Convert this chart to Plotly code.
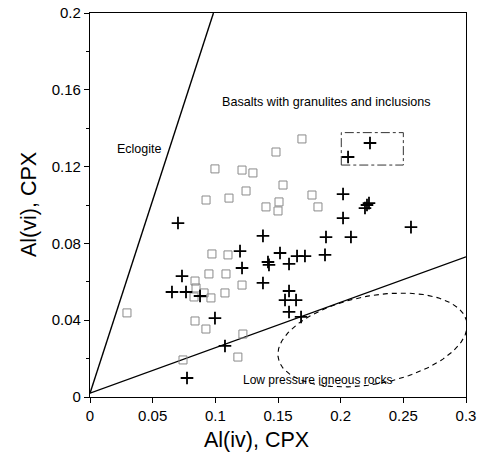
import numpy as np
import plotly.graph_objects as go

# Open squares (Al(iv), Al(vi))
sq_x = [0.0295, 0.0742, 0.0838, 0.0949, 0.0846, 0.083, 0.091, 0.0965, 0.0838, 0.0925,
        0.0973, 0.1101, 0.1085, 0.1077, 0.1213, 0.122, 0.118, 0.0997, 0.0926, 0.1109,
        0.1213, 0.130, 0.1245, 0.1691, 0.1484, 0.154, 0.1404, 0.1508, 0.150, 0.1771, 0.1819]
sq_y = [0.0438, 0.0193, 0.0604, 0.0641, 0.0568, 0.0521, 0.0542, 0.0516, 0.0396, 0.0354,
        0.0745, 0.074, 0.0641, 0.0542, 0.0583, 0.0328, 0.0208, 0.1188, 0.1026, 0.1036,
        0.1182, 0.1167, 0.1073, 0.1344, 0.1276, 0.1104, 0.099, 0.1016, 0.0969, 0.1052, 0.099]

# Crosses
cr_x = [0.0702, 0.0734, 0.0654, 0.0766, 0.0878, 0.0997, 0.0774, 0.1077, 0.1197, 0.1213,
        0.138, 0.138, 0.142, 0.1428, 0.1516, 0.1588, 0.1652, 0.1715, 0.1588, 0.1556,
        0.1644, 0.1588, 0.1684, 0.1875, 0.1883, 0.2082, 0.2019, 0.2019, 0.221, 0.2194,
        0.2226, 0.2561, 0.2234, 0.2059]
cr_y = [0.0906, 0.063, 0.0547, 0.0547, 0.0526, 0.0411, 0.0099, 0.0266, 0.076, 0.0672,
        0.0839, 0.0594, 0.0703, 0.0688, 0.075, 0.0693, 0.0734, 0.0734, 0.0552, 0.0505,
        0.0505, 0.0443, 0.0417, 0.074, 0.0833, 0.0833, 0.0932, 0.1057, 0.100, 0.0984,
        0.101, 0.0885, 0.1323, 0.125]

# Boundary lines
eclogite_x = [0.0, 0.0985]
eclogite_y = [0.002, 0.2]
lowp_x = [0.0, 0.3]
lowp_y = [0.002, 0.073]

# Tick values / labels
x_ticks = [0, 0.05, 0.1, 0.15, 0.2, 0.25, 0.3]
x_ticklabels = ["0", "0.05", "0.1", "0.15", "0.2", "0.25", "0.3"]
y_ticks = [0, 0.04, 0.08, 0.12, 0.16, 0.2]
y_ticklabels = ["0", "0.04", "0.08", "0.12", "0.16", "0.2"]

# Region outlines
box_x = [0.2005, 0.25]
box_y = [0.1208, 0.1377]
ell_center = (0.2254, 0.0297)
ell_a_px, ell_b_px, ell_angle_deg = 96, 44, -11

W, H = 483, 464
ml, mr, mt, mb = 90, 17, 13, 67
pw, ph = W - ml - mr, H - mt - mb
sx, sy = 0.3 / pw, 0.2 / ph

t = np.linspace(0, 2 * np.pi, 200)
ang = np.deg2rad(ell_angle_deg)
ex_px = ell_a_px * np.cos(t) * np.cos(ang) - ell_b_px * np.sin(t) * np.sin(ang)
ey_px = ell_a_px * np.cos(t) * np.sin(ang) + ell_b_px * np.sin(t) * np.cos(ang)
ell_x = ell_center[0] + ex_px * sx
ell_y = ell_center[1] - ey_px * sy

font = "Liberation Sans, Arial, sans-serif"

fig = go.Figure()
fig.add_trace(go.Scatter(x=eclogite_x, y=eclogite_y, mode="lines",
                         line=dict(color="black", width=1.4), hoverinfo="skip"))
fig.add_trace(go.Scatter(x=lowp_x, y=lowp_y, mode="lines",
                         line=dict(color="black", width=1.4), hoverinfo="skip"))
fig.add_trace(go.Scatter(x=ell_x, y=ell_y, mode="lines",
                         line=dict(color="black", width=1.1, dash="5px,4px"), hoverinfo="skip"))
fig.add_trace(go.Scatter(x=[box_x[0], box_x[1], box_x[1], box_x[0], box_x[0]],
                         y=[box_y[0], box_y[0], box_y[1], box_y[1], box_y[0]], mode="lines",
                         line=dict(color="#333", width=1, dash="dashdot"), hoverinfo="skip"))
fig.add_trace(go.Scatter(x=sq_x, y=sq_y, mode="markers",
                         marker=dict(symbol="square-open", size=8, color="#8a8a8a",
                                     line=dict(width=1, color="#8a8a8a"))))
fig.add_trace(go.Scatter(x=cr_x, y=cr_y, mode="markers",
                         marker=dict(symbol="cross-thin-open", size=9, color="black",
                                     line=dict(width=1.8, color="black"))))

ann = [
    dict(x=(139 - ml) * sx, y=(mt + ph - 149) * sy, text="Eclogite", size=12.5),
    dict(x=(326 - ml) * sx, y=(mt + ph - 102) * sy, text="Basalts with granulites and inclusions", size=12.6),
    dict(x=(317 - ml) * sx, y=(mt + ph - 380) * sy, text="Low pressure igneous rocks", size=12),
]
for a in ann:
    fig.add_annotation(x=a["x"], y=a["y"], text=a["text"], showarrow=False,
                       xref="x", yref="y", xanchor="center", yanchor="middle",
                       font=dict(family=font, size=a["size"], color="black"))

fig.add_annotation(x=(256 - ml) / pw, y=-(440 - mt - ph) / ph, xref="paper", yref="paper",
                   xanchor="center", yanchor="middle",
                   text="Al(iv), CPX", showarrow=False, font=dict(family=font, size=21.5, color="black"))
fig.add_annotation(x=-(ml - 29) / pw, y=1 - (205 - mt) / ph, xref="paper", yref="paper",
                   xanchor="center", yanchor="middle",
                   text="Al(vi), CPX", showarrow=False, textangle=-90,
                   font=dict(family=font, size=21.5, color="black"))

fig.update_layout(
    width=W, height=H, margin=dict(l=ml, r=mr, t=mt, b=mb, autoexpand=False),
    paper_bgcolor="white", plot_bgcolor="white", showlegend=False,
    font=dict(family=font, size=15, color="black"),
)
fig.update_xaxes(range=[0, 0.3], tickvals=x_ticks, ticktext=x_ticklabels,
                 ticks="outside", ticklen=5, tickwidth=1, tickcolor="black",
                 showline=True, linecolor="black", linewidth=1.3, mirror=True,
                 showgrid=False, zeroline=False, tickfont=dict(size=15), automargin=False)
fig.update_yaxes(range=[0, 0.2], tickvals=y_ticks, ticktext=y_ticklabels,
                 ticks="outside", ticklen=5, tickwidth=1, tickcolor="black",
                 minor=dict(ticks="outside", ticklen=3, dtick=0.02, tickcolor="black"),
                 showline=True, linecolor="black", linewidth=1.3, mirror=True,
                 showgrid=False, zeroline=False, tickfont=dict(size=15), automargin=False)

fig.write_html("out.html", config={"displayModeBar": False},
               post_script="document.body.style.margin='0';document.body.style.overflow='hidden';")
